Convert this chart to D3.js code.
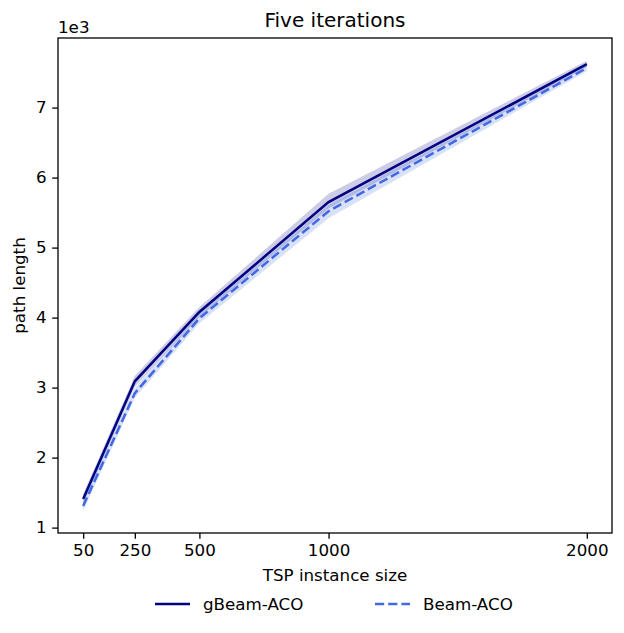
<!DOCTYPE html>
<html lang="en">
<head>
<meta charset="UTF-8">
<title>Five iterations</title>
<script src="https://d3js.org/d3.v7.min.js"></script>
<style>
    body { margin: 0; background: white; }
    svg { display: block; font-family: "DejaVu Sans", sans-serif; }
    .axis text { font-size: 16.7px; fill: black; font-family: "DejaVu Sans", sans-serif; }
    .axis path, .axis line { stroke: black; stroke-width: 1.3px; }
</style>
</head>
<body>
<div id="container"></div>
<script>
// instance sizes on x
const sizes = [50, 250, 500, 1000, 2000];
const xTicks = [50, 250, 500, 1000, 2000];
const yTicks = [1000, 2000, 3000, 4000, 5000, 6000, 7000];

// gBeam-ACO mean and band
const gbeamMean = [1410, 3090, 4080, 5650, 7620];
const gbeamLow  = [1340, 3010, 4010, 5560, 7580];
const gbeamHigh = [1480, 3170, 4150, 5770, 7670];

// Beam-ACO mean and band
const beamMean = [1310, 2920, 3990, 5520, 7565];
const beamLow  = [1240, 2850, 3920, 5420, 7520];
const beamHigh = [1380, 2990, 4060, 5610, 7610];

const width = 624, height = 633;
const margins = {top: 38, bottom: 100, left: 58, right: 12};

const svg = d3.select("#container").append("svg")
    .attr("width", width).attr("height", height);

const xScale = d3.scaleLinear()
    .domain([-47.5, 2097.5])
    .range([margins.left, width - margins.right]);

const yScale = d3.scaleLinear()
    .domain([923, 7994])
    .range([height - margins.bottom, margins.top]);

const series = [
    {name: "gBeam-ACO", mean: gbeamMean, low: gbeamLow, high: gbeamHigh, color: "#000080", dash: null},
    {name: "Beam-ACO", mean: beamMean, low: beamLow, high: beamHigh, color: "#4169e1", dash: "9.2,4"}
];

const area = d3.area()
    .x(d => xScale(d.x))
    .y0(d => yScale(d.lo))
    .y1(d => yScale(d.hi));

const line = d3.line()
    .x(d => xScale(d.x))
    .y(d => yScale(d.y));

// bands first
series.forEach(s => {
    const pts = sizes.map((x, i) => ({x: x, lo: s.low[i], hi: s.high[i]}));
    svg.append("path")
        .attr("d", area(pts))
        .attr("fill", s.color)
        .attr("fill-opacity", 0.2)
        .attr("stroke", "none");
});

// mean lines
series.forEach(s => {
    const pts = sizes.map((x, i) => ({x: x, y: s.mean[i]}));
    svg.append("path")
        .attr("d", line(pts))
        .attr("fill", "none")
        .attr("stroke", s.color)
        .attr("stroke-width", 2.5)
        .attr("stroke-dasharray", s.dash);
});

// axes
const xAxis = d3.axisBottom(xScale).tickValues(xTicks).tickSize(5.8).tickPadding(5.5)
    .tickFormat(d3.format("d")).tickSizeOuter(0);
const yAxis = d3.axisLeft(yScale).tickValues(yTicks).tickSize(5.8).tickPadding(5.5)
    .tickFormat(d => d / 1000).tickSizeOuter(0);

svg.append("g").attr("class", "axis")
    .attr("transform", `translate(0,${height - margins.bottom})`)
    .call(xAxis)
    .call(g => g.select(".domain").remove());

svg.append("g").attr("class", "axis")
    .attr("transform", `translate(${margins.left},0)`)
    .call(yAxis)
    .call(g => g.select(".domain").remove());

// frame
svg.append("rect")
    .attr("x", margins.left).attr("y", margins.top)
    .attr("width", width - margins.left - margins.right)
    .attr("height", height - margins.top - margins.bottom)
    .attr("fill", "none").attr("stroke", "black").attr("stroke-width", 1.3);

// offset text
svg.append("text")
    .attr("x", margins.left).attr("y", 33)
    .attr("font-size", "16.7px")
    .text("1e3");

// title
svg.append("text")
    .attr("x", (margins.left + width - margins.right) / 2).attr("y", 27)
    .attr("text-anchor", "middle")
    .attr("font-size", "20px")
    .text("Five iterations");

// axis labels
svg.append("text")
    .attr("x", (margins.left + width - margins.right) / 2).attr("y", 581)
    .attr("text-anchor", "middle")
    .attr("font-size", "16.7px")
    .text("TSP instance size");

svg.append("text")
    .attr("transform", `translate(25,${(margins.top + height - margins.bottom) / 2}) rotate(-90)`)
    .attr("text-anchor", "middle")
    .attr("font-size", "16.7px")
    .text("path length");

// legend
const legend = svg.append("g")
    .selectAll("g")
    .data(series)
    .enter()
    .append("g")
    .attr("transform", (d, i) => `translate(${155 + i * 220},604)`);

legend.append("line")
    .attr("x1", 0).attr("x2", 35)
    .attr("y1", 0).attr("y2", 0)
    .attr("stroke", d => d.color)
    .attr("stroke-width", 2.5)
    .attr("stroke-dasharray", d => d.dash);

legend.append("text")
    .attr("x", 48).attr("y", 6)
    .attr("font-size", "16.7px")
    .text(d => d.name);
</script>
</body>
</html>
